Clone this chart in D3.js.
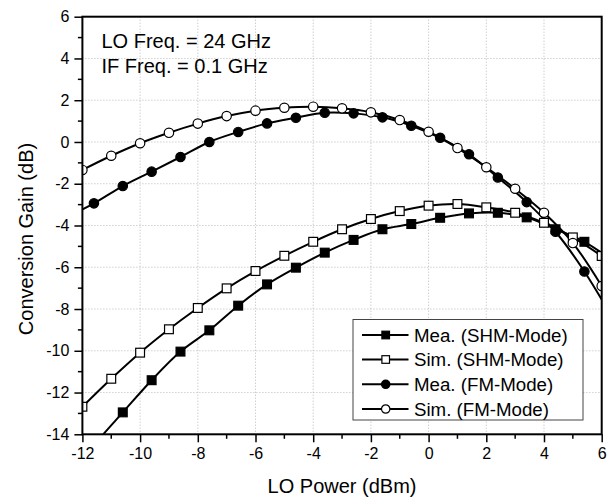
<!DOCTYPE html>
<html><head><meta charset="utf-8">
<script src="https://cdn.jsdelivr.net/npm/d3@7"></script>
<style>body{margin:0;background:#fff}svg{display:block}text{font-family:"Liberation Sans",Arial,sans-serif;fill:#000}</style>
</head><body>
<svg id="c" width="613" height="498"></svg>
<script>
// ---- data ----
const simX = [-12,-11,-10,-9,-8,-7,-6,-5,-4,-3,-2,-1,0,1,2,3,4,5,6];
const simSHM = [-12.68,-11.34,-10.09,-8.97,-7.95,-7.01,-6.18,-5.45,-4.78,-4.18,-3.69,-3.31,-3.05,-2.97,-3.13,-3.39,-3.87,-4.57,-5.46];
const simFM = [-1.34,-0.66,-0.06,0.44,0.88,1.24,1.50,1.64,1.69,1.61,1.42,1.05,0.49,-0.29,-1.21,-2.24,-3.39,-4.84,-6.9];
const meaX = [-12.6,-11.6,-10.6,-9.6,-8.6,-7.6,-6.6,-5.6,-4.6,-3.6,-2.6,-1.6,-0.6,0.4,1.4,2.4,3.4,4.4,5.4,6.4];
const meaSHM = [-16.0,-14.5,-12.95,-11.41,-10.04,-9.02,-7.84,-6.82,-6.02,-5.3,-4.69,-4.18,-3.93,-3.63,-3.42,-3.39,-3.61,-4.18,-4.78,-5.7];
const meaFM = [-3.65,-2.94,-2.11,-1.42,-0.72,0.0,0.48,0.89,1.16,1.40,1.37,1.18,0.78,0.2,-0.59,-1.7,-2.88,-4.3,-6.2,-8.5];
const xTicks = [-12,-10,-8,-6,-4,-2,0,2,4,6];
const yTicks = [-14,-12,-10,-8,-6,-4,-2,0,2,4,6];
const seriesNames = ["Mea. (SHM-Mode)","Sim. (SHM-Mode)","Mea. (FM-Mode)","Sim. (FM-Mode)"];
const annotation = ["LO Freq. = 24 GHz","IF Freq. = 0.1 GHz"];
const xTitle = "LO Power (dBm)";
const yTitle = "Conversion Gain (dB)";

const series = [
  {name: seriesNames[0], xs: meaX, ys: meaSHM, shape: "square", fill: "#000"},
  {name: seriesNames[1], xs: simX, ys: simSHM, shape: "square", fill: "#fff"},
  {name: seriesNames[2], xs: meaX, ys: meaFM, shape: "circle", fill: "#000"},
  {name: seriesNames[3], xs: simX, ys: simFM, shape: "circle", fill: "#fff"}
];

const FONT = "'Liberation Sans', Arial, sans-serif";
const L = 82.4, R = 601.7, T = 16.7, B = 434.3;
const x = d3.scaleLinear().domain([-12,6]).range([L,R]);
const y = d3.scaleLinear().domain([-14,6]).range([B,T]);
const svg = d3.select("#c");

svg.append("defs").append("clipPath").attr("id","clip")
  .append("rect").attr("x",L).attr("y",T).attr("width",R-L).attr("height",B-T);

// grid
const grid = svg.append("g");
grid.selectAll(".gx").data(xTicks.slice(1,-1)).enter().append("line")
  .attr("x1",d=>x(d)).attr("x2",d=>x(d)).attr("y1",T).attr("y2",B)
  .attr("stroke","#b8b8b8").attr("stroke-width",1).attr("stroke-dasharray","1,2");
grid.selectAll(".gy").data(yTicks.slice(1,-1)).enter().append("line")
  .attr("y1",d=>y(d)).attr("y2",d=>y(d)).attr("x1",L).attr("x2",R)
  .attr("stroke","#b8b8b8").attr("stroke-width",1).attr("stroke-dasharray","1,2");

// series
const plot = svg.append("g").attr("clip-path","url(#clip)");
const line = d3.line().x(d=>x(d[0])).y(d=>y(d[1])).curve(d3.curveCatmullRom.alpha(0.5));
function marker(g, shape, fill, s) {
  if (shape === "circle") {
    g.append("circle").attr("r", s).attr("fill", fill).attr("stroke","#000").attr("stroke-width",1.2);
  } else {
    g.append("rect").attr("x",-s).attr("y",-s).attr("width",2*s).attr("height",2*s)
      .attr("fill", fill).attr("stroke","#000").attr("stroke-width",1.2);
  }
}
series.forEach(s => {
  const pts = s.xs.map((v,i)=>[v, s.ys[i]]);
  plot.append("path").datum(pts).attr("d", line).attr("fill","none")
    .attr("stroke","#000").attr("stroke-width",2);
});
series.forEach(s => {
  const pts = s.xs.map((v,i)=>[v, s.ys[i]]);
  pts.forEach(p => {
    const g = plot.append("g").attr("transform",`translate(${x(p[0])},${y(p[1])})`);
    marker(g, s.shape, s.fill, s.shape==="circle"?4.7:4.4);
  });
});

// axes
const fmt = d => String(d);
const xAxis = d3.axisBottom(x).tickValues(xTicks).tickSize(8).tickPadding(5).tickFormat(fmt);
const yAxis = d3.axisLeft(y).tickValues(yTicks).tickSize(8).tickPadding(5).tickFormat(fmt);
const gx = svg.append("g").attr("transform",`translate(0,${B})`).call(xAxis);
const gy = svg.append("g").attr("transform",`translate(${L},0)`).call(yAxis);
[gx,gy].forEach(g=>{
  g.attr("font-family", FONT);
  g.select(".domain").remove();
  g.selectAll(".tick line").attr("stroke","#000").attr("stroke-width",1.5);
  g.selectAll("text").attr("font-size",16).style("font-family",FONT).attr("fill","#000");
});
gx.selectAll("text").attr("dy","0.71em");
// minor ticks
const minorX = d3.range(-11,6,2), minorY = d3.range(-13,6,2);
svg.append("g").selectAll("line").data(minorX).enter().append("line")
  .attr("x1",d=>x(d)).attr("x2",d=>x(d)).attr("y1",B).attr("y2",B+4.5).attr("stroke","#000").attr("stroke-width",1.5);
svg.append("g").selectAll("line").data(minorY).enter().append("line")
  .attr("y1",d=>y(d)).attr("y2",d=>y(d)).attr("x1",L-4.5).attr("x2",L).attr("stroke","#000").attr("stroke-width",1.5);

// frame
svg.append("rect").attr("x",L).attr("y",T).attr("width",R-L).attr("height",B-T)
  .attr("fill","none").attr("stroke","#000").attr("stroke-width",2);

// titles
svg.append("text").attr("x",(L+R)/2).attr("y",493).attr("text-anchor","middle")
  .attr("font-size",20).text(xTitle);
svg.append("text").attr("transform","translate(33,239) rotate(-90)").attr("text-anchor","middle")
  .attr("font-size",20).text(yTitle);

// annotation
svg.append("g").selectAll("text").data(annotation).enter().append("text")
  .attr("x",101.5).attr("y",(d,i)=>47.7+25*i).attr("font-size",20).text(d=>d);

// legend
const lg = svg.append("g");
lg.append("rect").attr("x",353).attr("y",319.5).attr("width",230).attr("height",100.5)
  .attr("fill","#fff").attr("stroke","#444").attr("stroke-width",1);
const rowsY = [335, 359.5, 384.3, 409];
series.forEach((s,i)=>{
  const g = lg.append("g").attr("transform",`translate(0,${rowsY[i]})`);
  g.append("line").attr("x1",362).attr("x2",408.5).attr("y1",0).attr("y2",0).attr("stroke","#000").attr("stroke-width",2);
  const m = g.append("g").attr("transform","translate(385.7,0)");
  marker(m, s.shape, s.fill, s.shape==="circle"?4.2:3.8);
  g.append("text").attr("x",414).attr("y",0).attr("dy","0.36em").attr("font-size",18.7).text(s.name);
});
</script>
</body></html>
